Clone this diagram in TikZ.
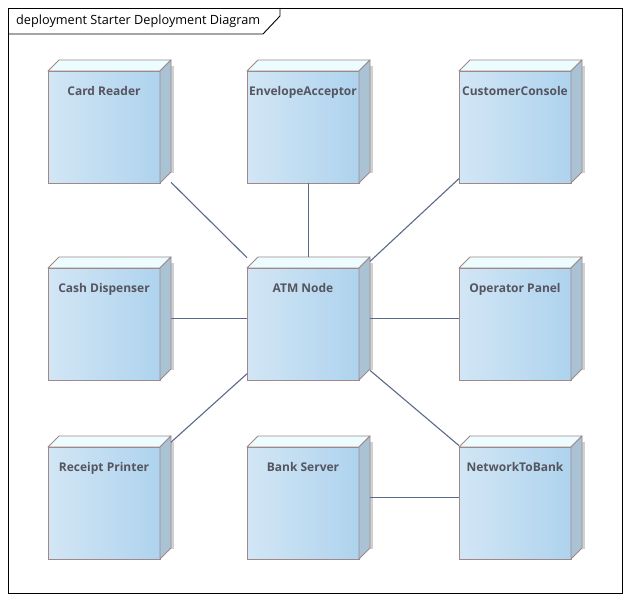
\documentclass[tikz,border=0pt]{standalone}
\usepackage{fontspec}
\setmainfont{Open Sans}
\usetikzlibrary{calc}
\definecolor{frontL}{HTML}{D2E6F5}
\definecolor{frontR}{HTML}{AED3EE}
\definecolor{topc}{HTML}{ECFCFF}
\definecolor{sidec}{HTML}{A9C3D5}
\definecolor{edgec}{HTML}{A08888}
\definecolor{shadc}{HTML}{D0D0D0}
\definecolor{linkc}{HTML}{5C6A8A}
\definecolor{txtc}{HTML}{55555F}
\tikzset{
  nodebox/.style={draw=none,minimum width=123pt,minimum height=123pt,inner sep=0pt,outer sep=0pt},
  frontface/.style={left color=frontL,right color=frontR,draw=edgec,line width=0.9pt},
  topface/.style={fill=topc,draw=edgec,line width=0.9pt,line join=round},
  sideface/.style={fill=sidec,draw=edgec,line width=0.9pt,line join=round},
  shadowbox/.style={fill=shadc},
  lbl/.style={font=\fontsize{12}{14}\selectfont\bfseries,text=txtc,inner sep=0pt,anchor=base},
  link/.style={draw=linkc,line width=1.1pt},
  framec/.style={draw=black,line width=0.9pt},
}
\newcommand\depnode[4]{%
  \node[nodebox] (#1) at (#2,#3) {};
  \fill[shadowbox] ($(#1.north east)+(0,-6)$) rectangle ($(#1.south east)+(3,10)$);
  \path[frontface] (#1.south west) rectangle ($(#1.north east)+(-11,-11)$);
  \filldraw[topface] ($(#1.north west)+(0,-11)$) -- ($(#1.north west)+(11,0)$) -- (#1.north east) -- ($(#1.north east)+(-11,-11)$) -- cycle;
  \filldraw[sideface] ($(#1.north east)+(-11,-11)$) -- (#1.north east) -- ($(#1.south east)+(0,11)$) -- ($(#1.south east)+(-11,0)$) -- cycle;
  \node[lbl] (#1-l) at ($(#1.north west)+(56,-36)$) {#4};
}
\begin{document}
\begin{tikzpicture}[x=1pt,y=1pt]
\useasboundingbox[fill=white] (0,0) rectangle (630,601);
% frame
\draw[framec] (8,8) rectangle (622,593);
\coordinate (t1) at (8,567);
\coordinate (t2) at (263,567);
\coordinate (t3) at (280,585);
\coordinate (t4) at (280,593);
\draw[framec] (t1) -- (t2) -- (t3) -- (t4);
\node[anchor=base west,inner sep=0pt,font=\fontsize{12.7}{14}\selectfont] (title) at (16,576) {deployment Starter Deployment Diagram};
% nodes
\depnode{cr}{109.5}{479.5}{Card Reader}
\depnode{ea}{308.5}{479.5}{EnvelopeAcceptor}
\depnode{cc}{520.5}{479.5}{CustomerConsole}
\depnode{cd}{109.5}{282.5}{Cash Dispenser}
\depnode{atm}{308.5}{282.5}{ATM Node}
\depnode{op}{520.5}{282.5}{Operator Panel}
\depnode{rp}{109.5}{103.5}{Receipt Printer}
\depnode{bs}{308.5}{103.5}{Bank Server}
\depnode{nb}{520.5}{103.5}{NetworkToBank}
% links
\draw[link] (cr) -- (atm);
\draw[link] (ea) -- (atm);
\draw[link] (cc) -- (atm);
\draw[link] (cd) -- (atm);
\draw[link] (op) -- (atm);
\draw[link] (rp) -- (atm);
\draw[link] (nb) -- (atm);
\draw[link] (bs) -- (nb);
\end{tikzpicture}
\end{document}
